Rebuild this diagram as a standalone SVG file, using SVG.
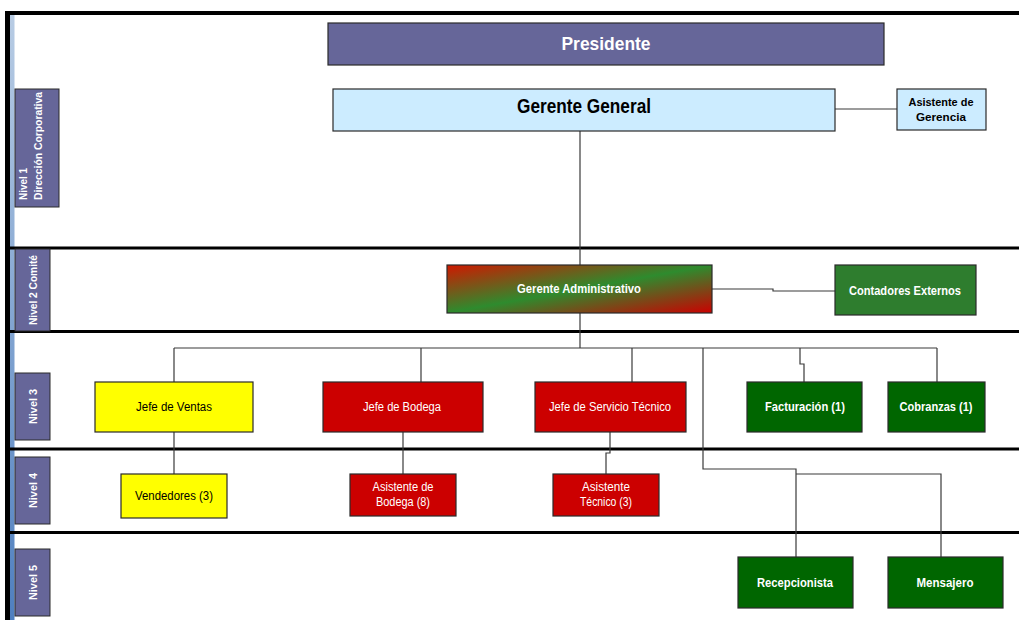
<svg xmlns="http://www.w3.org/2000/svg" width="1019" height="620" viewBox="0 0 1019 620">
<style>
  text { font-family: "Liberation Sans Narrow", "Liberation Sans", Arial, sans-serif; }
  .box { stroke: #2a2a2a; stroke-width: 1.2; }
  .purple { fill: #666699; }
  .lblue { fill: #CCECFF; }
  .yellow { fill: #FFFF00; }
  .red { fill: #CC0000; }
  .dgreen { fill: #006600; }
  .mgreen { fill: #2E7D2E; }
  .wb { fill: #ffffff; font-weight: bold; }
  .wn { fill: #ffffff; }
  .bb { fill: #000000; font-weight: bold; }
  .bn { fill: #000000; }
  .c { text-anchor: middle; }
  .conn { fill: none; stroke: #3a3a3a; stroke-width: 1.2; }
  .band { stroke: #000000; stroke-width: 3; }
  .side { fill: #666699; stroke: #2a2a2a; stroke-width: 1; }
</style>
<defs>
  <linearGradient id="gadm" x1="0" y1="0" x2="1" y2="1">
    <stop offset="0" stop-color="#D01800"/>
    <stop offset="0.5" stop-color="#2E8B2E"/>
    <stop offset="1" stop-color="#CC0000"/>
  </linearGradient>
  <linearGradient id="strip" x1="0" y1="0" x2="0" y2="1">
    <stop offset="0" stop-color="#B8CCE4"/>
    <stop offset="1" stop-color="#4F7FBF"/>
  </linearGradient>
</defs>
<rect x="0" y="0" width="1019" height="620" fill="#ffffff"/>

<!-- frame -->
<g id="frame">
  <rect x="10" y="15" width="4.5" height="605" fill="url(#strip)"/>
  <rect x="5" y="11" width="1014" height="4" fill="#000000"/>
  <rect x="5" y="11" width="5" height="609" fill="#000000"/>
  <line class="band" x1="10" y1="248" x2="1019" y2="248"/>
  <line class="band" x1="10" y1="331.5" x2="1019" y2="331.5"/>
  <line class="band" x1="10" y1="449" x2="1019" y2="449"/>
  <line class="band" x1="10" y1="532.5" x2="1019" y2="532.5"/>
</g>

<!-- level labels -->
<g id="nivel1">
  <rect class="side" x="15" y="89" width="44" height="118"/>
  <text class="wb" font-size="10" transform="translate(27,200) rotate(-90)" textLength="32" lengthAdjust="spacingAndGlyphs">Nivel 1</text>
  <text class="wb" font-size="10" transform="translate(42,200) rotate(-90)" textLength="108" lengthAdjust="spacingAndGlyphs">Dirección Corporativa</text>
</g>
<g id="nivel2">
  <rect class="side" x="15" y="249" width="35" height="82"/>
  <text class="wb c" font-size="11" transform="translate(37,290) rotate(-90)" textLength="70" lengthAdjust="spacingAndGlyphs">Nivel 2 Comité</text>
</g>
<g id="nivel3">
  <rect class="side" x="15" y="373" width="35" height="67"/>
  <text class="wb c" font-size="11" transform="translate(37,406.5) rotate(-90)" textLength="35" lengthAdjust="spacingAndGlyphs">Nivel 3</text>
</g>
<g id="nivel4">
  <rect class="side" x="15" y="457" width="35" height="67"/>
  <text class="wb c" font-size="11" transform="translate(37,490.5) rotate(-90)" textLength="35" lengthAdjust="spacingAndGlyphs">Nivel 4</text>
</g>
<g id="nivel5">
  <rect class="side" x="15" y="549" width="35" height="67"/>
  <text class="wb c" font-size="11" transform="translate(37,582.5) rotate(-90)" textLength="35" lengthAdjust="spacingAndGlyphs">Nivel 5</text>
</g>

<!-- connectors -->
<g id="connectors">
  <path class="conn" d="M835,109 H897"/>
  <path class="conn" d="M580,131 V265"/>
  <path class="conn" d="M712,289 H773 V291 H835"/>
  <path class="conn" d="M580,313 V348"/>
  <path class="conn" d="M174,348 H937"/>
  <path class="conn" d="M174,348 V382"/>
  <path class="conn" d="M421,348 V382"/>
  <path class="conn" d="M632,348 V382"/>
  <path class="conn" d="M800,348 V364 H804 V382"/>
  <path class="conn" d="M937,348 V382"/>
  <path class="conn" d="M174,432 V474"/>
  <path class="conn" d="M403,432 V474"/>
  <path class="conn" d="M610,432 V453 H606 V474"/>
  <path class="conn" d="M703,348 V469 H796 V557"/>
  <path class="conn" d="M796,474 H941 V557"/>
</g>

<!-- nodes -->
<g id="presidente">
  <rect class="box purple" x="328" y="23" width="556" height="42"/>
  <text class="wb c" x="606" y="50" font-size="18" textLength="89" lengthAdjust="spacingAndGlyphs">Presidente</text>
</g>
<g id="gerente-general">
  <rect class="box lblue" x="333" y="89" width="502" height="42"/>
  <text class="bb c" x="584" y="113" font-size="20" textLength="134" lengthAdjust="spacingAndGlyphs">Gerente General</text>
</g>
<g id="asistente-gerencia">
  <rect class="box lblue" x="897" y="89" width="89" height="41"/>
  <text class="bb c" x="941" y="106" font-size="11" textLength="65" lengthAdjust="spacingAndGlyphs">Asistente de</text>
  <text class="bb c" x="941" y="121" font-size="11" textLength="50" lengthAdjust="spacingAndGlyphs">Gerencia</text>
</g>
<g id="gerente-administrativo">
  <rect class="box" x="447" y="265" width="265" height="48" fill="url(#gadm)"/>
  <text class="wb c" x="579" y="293" font-size="12" textLength="124" lengthAdjust="spacingAndGlyphs">Gerente Administrativo</text>
</g>
<g id="contadores-externos">
  <rect class="box mgreen" x="835" y="265" width="141" height="50"/>
  <text class="wb c" x="905" y="295" font-size="12" textLength="112" lengthAdjust="spacingAndGlyphs">Contadores Externos</text>
</g>
<g id="jefe-ventas">
  <rect class="box yellow" x="95" y="382" width="158" height="50"/>
  <text class="bn c" x="174" y="411" font-size="12" textLength="76" lengthAdjust="spacingAndGlyphs">Jefe de Ventas</text>
</g>
<g id="jefe-bodega">
  <rect class="box red" x="323" y="382" width="160" height="50"/>
  <text class="wn c" x="402" y="411" font-size="12" textLength="78" lengthAdjust="spacingAndGlyphs">Jefe de Bodega</text>
</g>
<g id="jefe-servicio-tecnico">
  <rect class="box red" x="535" y="382" width="151" height="50"/>
  <text class="wn c" x="610" y="411" font-size="12" textLength="122" lengthAdjust="spacingAndGlyphs">Jefe de Servicio Técnico</text>
</g>
<g id="facturacion">
  <rect class="box dgreen" x="747" y="382" width="115" height="50"/>
  <text class="wb c" x="805" y="411" font-size="12" textLength="80" lengthAdjust="spacingAndGlyphs">Facturación (1)</text>
</g>
<g id="cobranzas">
  <rect class="box dgreen" x="888" y="382" width="97" height="50"/>
  <text class="wb c" x="936" y="411" font-size="12" textLength="73" lengthAdjust="spacingAndGlyphs">Cobranzas (1)</text>
</g>
<g id="vendedores">
  <rect class="box yellow" x="121" y="474" width="106" height="44"/>
  <text class="bn c" x="174" y="500" font-size="12" textLength="78" lengthAdjust="spacingAndGlyphs">Vendedores (3)</text>
</g>
<g id="asistente-bodega">
  <rect class="box red" x="350" y="474" width="106" height="42"/>
  <text class="wn c" x="403" y="491" font-size="12" textLength="61" lengthAdjust="spacingAndGlyphs">Asistente de</text>
  <text class="wn c" x="403" y="506" font-size="12" textLength="54" lengthAdjust="spacingAndGlyphs">Bodega (8)</text>
</g>
<g id="asistente-tecnico">
  <rect class="box red" x="553" y="474" width="106" height="42"/>
  <text class="wn c" x="606" y="491" font-size="12" textLength="48" lengthAdjust="spacingAndGlyphs">Asistente</text>
  <text class="wn c" x="606" y="506" font-size="12" textLength="52" lengthAdjust="spacingAndGlyphs">Técnico (3)</text>
</g>
<g id="recepcionista">
  <rect class="box dgreen" x="738" y="557" width="115" height="51"/>
  <text class="wb c" x="795" y="587" font-size="12" textLength="76" lengthAdjust="spacingAndGlyphs">Recepcionista</text>
</g>
<g id="mensajero">
  <rect class="box dgreen" x="888" y="557" width="115" height="51"/>
  <text class="wb c" x="945" y="587" font-size="12" textLength="57" lengthAdjust="spacingAndGlyphs">Mensajero</text>
</g>
</svg>
